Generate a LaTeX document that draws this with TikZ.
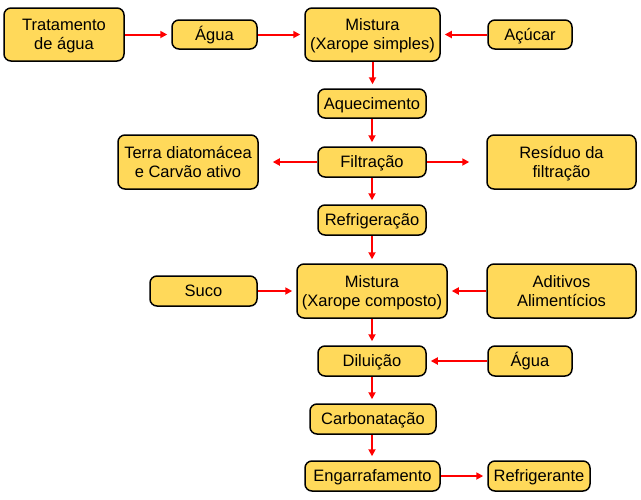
\documentclass[tikz,border=0pt]{standalone}
\usepackage{fontspec}
\setmainfont{Liberation Sans}
\usetikzlibrary{arrows.meta}
\definecolor{boxfill}{RGB}{255,217,90}
\definecolor{arrred}{RGB}{255,0,0}
\begin{document}
\begin{tikzpicture}[x=1pt,y=-1pt,
  box/.style={draw=black,line width=1.5pt,fill=boxfill,rounded corners=7pt,
    inner sep=0pt,align=center,font=\fontsize{16.5}{19}\selectfont,text depth=0pt},
  oneline/.style={box,text height=11.8pt},
  twoline/.style={box,text height=30.8pt},
  flow/.style={draw=arrred,line width=2pt,-{Triangle[length=7pt,width=7pt]},shorten >=4pt}]
\useasboundingbox (0,0) rectangle (641,499);
\newcommand{\bxa}[6]{\node[oneline,minimum width=#4pt,minimum height=#5pt] (#1) at (#2,#3) {#6};}
\newcommand{\bxb}[6]{\node[twoline,minimum width=#4pt,minimum height=#5pt] (#1) at (#2,#3) {#6};}
\bxb{trat}{64}{34.5}{120}{53}{Tratamento\\de água}
\bxa{agua}{214.5}{34.5}{85}{29}{Água}
\bxb{mist}{372.5}{34.5}{135}{53}{Mistura\\(Xarope simples)}
\bxa{acuc}{530}{34.5}{84}{29}{Açúcar}
\bxa{aque}{372}{103.5}{108}{29}{Aquecimento}
\bxb{terra}{188}{162}{140}{54}{Terra diatomácea\\e Carvão ativo}
\bxa{filt}{372}{162}{108}{30}{Filtração}
\bxb{resid}{561.5}{162}{149}{54}{Resíduo da\\filtração}
\bxa{refr}{372}{220}{108}{30}{Refrigeração}
\bxa{suco}{203.5}{291}{107}{30}{Suco}
\bxb{mistc}{372}{291}{150}{54}{Mistura\\(Xarope composto)}
\bxb{adit}{561.5}{291}{149}{54}{Aditivos\\Alimentícios}
\bxa{dilu}{372}{361}{108}{30}{Diluição}
\bxa{agua2}{530}{361}{84}{30}{Água}
\bxa{carb}{373}{419}{126}{30}{Carbonatação}
\bxa{enga}{372.5}{476}{135}{30}{Engarrafamento}
\bxa{refri}{539}{476}{102}{30}{Refrigerante}
\draw[flow] (trat) -- (agua);
\draw[flow] (agua) -- (mist);
\draw[flow] (acuc) -- (mist);
\draw[flow] (mist) -- (mist |- aque.north);
\draw[flow] (aque) -- (filt);
\draw[flow,shorten >=14pt] (filt) -- (terra);
\draw[flow,shorten >=17pt] (filt) -- (resid);
\draw[flow] (filt) -- (refr);
\draw[flow] (refr) -- (mistc);
\draw[flow] (suco) -- (mistc);
\draw[flow] (adit) -- (mistc);
\draw[flow] (mistc) -- (dilu);
\draw[flow] (agua2) -- (dilu);
\draw[flow] (dilu.south) -- (dilu.south |- carb.north);
\draw[flow] (carb.south -| dilu.south) -- (enga.north -| dilu.south);
\draw[flow] (enga) -- (refri);
\end{tikzpicture}
\end{document}
